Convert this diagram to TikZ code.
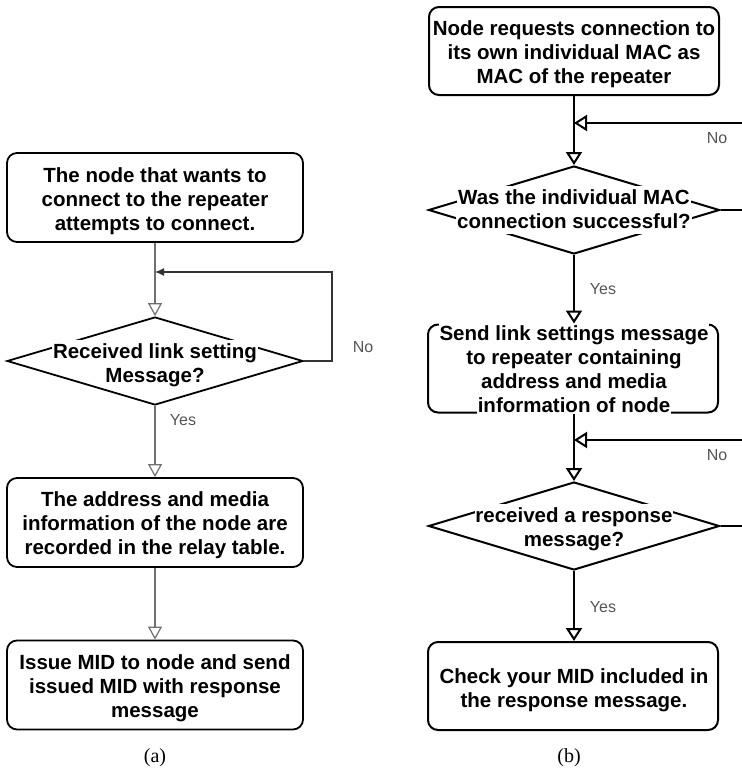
\documentclass[tikz,border=0pt]{standalone}
\usepackage{fontspec}
\setmainfont{Liberation Sans}
\newfontfamily\capfont{Liberation Serif}
\usetikzlibrary{arrows.meta,shapes.geometric}
\definecolor{lgray}{HTML}{707070}
\definecolor{lblgray}{HTML}{555555}
\newcommand\bgl[1]{{\setlength\fboxsep{0.8pt}\colorbox{white}{\rule[-5pt]{0pt}{23pt}#1}}}
\newcommand\boxtxtfont{\fontsize{20.5}{24}\selectfont\bfseries\setlength\lineskiplimit{-50pt}}
\begin{document}
\begin{tikzpicture}[x=1pt,y=-1pt,
  boxA/.style={draw=black, line width=1.8pt, rounded corners=10pt, minimum width=296pt, minimum height=89pt, inner sep=0pt},
  boxB/.style={draw=black, line width=2pt, rounded corners=10pt, minimum width=290pt, minimum height=88pt, inner sep=0pt},
  decA/.style={draw=black, line width=1.8pt, diamond, minimum width=296pt, minimum height=88pt, inner sep=0pt},
  decB/.style={draw=black, line width=2pt, diamond, minimum width=291pt, minimum height=88pt, inner sep=0pt},
  txt/.style={align=center, inner sep=0pt, font=\boxtxtfont},
  lbl/.style={text=lblgray, inner sep=0pt, font=\fontsize{16}{19}\selectfont},
  captxt/.style={inner sep=0pt, font=\capfont\fontsize{20}{24}\selectfont},
  connA/.style={draw=lgray, line width=1.2pt},
  connB/.style={draw=black, line width=2pt},
  openA/.style={-{Triangle[open,length=13pt,width=14pt]}},
  openB/.style={-{Triangle[open,length=13pt,width=16pt]}}
]
\useasboundingbox (0,0) rectangle (742,769);

% ---------------- (a) ----------------
\node[boxA] (A1) at (155,197.5) {};
\node[txt] (A1t) at (155,200) {\bgl{The node that wants to}\\\bgl{connect to the repeater}\\\bgl{attempts to connect.}};
\node[decA] (A2) at (155,361) {};
\node[txt] (A2t) at (155,364) {\bgl{Received link setting}\\\bgl{Message?}};
\node[boxA] (A3) at (155,522.5) {};
\node[txt] (A3t) at (155,524) {\bgl{The address and media}\\\bgl{information of the node are}\\\bgl{recorded in the relay table.}};
\node[boxA] (A4) at (155,685) {};
\node[txt] (A4t) at (155,687) {\bgl{Issue MID to node and send}\\\bgl{issued MID with response}\\\bgl{message}};

\coordinate (ajoin) at (155,272);
\coordinate (aturn) at (332,272);
\draw[connA, openA] (A1.south) -- (A2.north);
\draw[connA, -{Latex[length=9pt,width=8pt]}, draw=black!80] (A2.east) -| (aturn) -- (ajoin);
\draw[connA, openA] (A2.south) -- (A3.north);
\draw[connA, openA] (A3.south) -- (A4.north);
\node[lbl] (aNo) at (363,347) {No};
\node[lbl] (aYes) at (183,420) {Yes};
\node[captxt] (capa) at (155,758) {(a)};

% ---------------- (b) ----------------
\node[boxB] (B1) at (574,51) {};
\node[txt] (B1t) at (574,53) {\bgl{Node requests connection to}\\\bgl{its own individual MAC as}\\\bgl{MAC of the repeater}};
\node[decB] (B2) at (574,210) {};
\node[txt] (B2t) at (574,210) {\bgl{Was the individual MAC}\\\bgl{connection successful?}};
\node[boxB] (B3) at (573,368.5) {};
\node[txt] (B3t) at (574,370) {\bgl{Send link settings message}\\\bgl{to repeater containing}\\\bgl{address and media}\\\bgl{information of node}};
\node[decB] (B4) at (574,526) {};
\node[txt] (B4t) at (574,528) {\bgl{received a response}\\\bgl{message?}};
\node[boxB] (B5) at (573,686) {};
\node[txt] (B5t) at (574,689) {\bgl{Check your MID included in}\\\bgl{the response message.}};

\coordinate (bfb1) at (742,123);
\coordinate (bfb2) at (742,440);
\draw[connB, openB] (B1.south) -- (B2.north);
\draw[connB, openB] (bfb1) -- (bfb1 -| B1.south);
\draw[connB] (B2.east) -- (B2.east -| bfb1);
\draw[connB, openB] (B2.south) -- (B3.north -| B2.south);
\draw[connB, openB] (B3.south -| B2.south) -- (B4.north);
\draw[connB, openB] (bfb2) -- (bfb2 -| B4.north);
\draw[connB] (B4.east) -- (B4.east -| bfb2);
\draw[connB, openB] (B4.south) -- (B5.north -| B4.south);
\node[lbl] (bNo1) at (717,138) {No};
\node[lbl] (bYes1) at (603,289) {Yes};
\node[lbl] (bNo2) at (717,455) {No};
\node[lbl] (bYes2) at (603,607) {Yes};
\node[captxt] (capb) at (569,758) {(b)};
\end{tikzpicture}
\end{document}
